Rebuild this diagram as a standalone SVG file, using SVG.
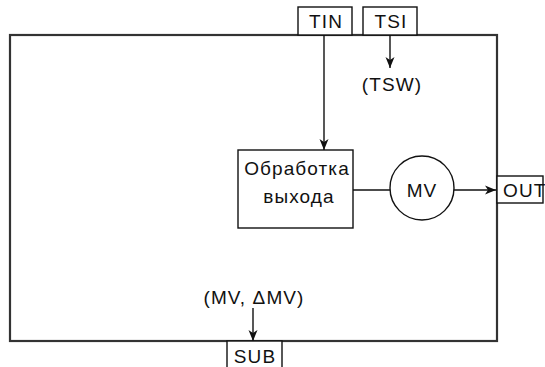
<svg xmlns="http://www.w3.org/2000/svg" width="545" height="367" viewBox="0 0 545 367">
<style>
.t{font-family:"Liberation Sans",Arial,sans-serif;font-size:19px;letter-spacing:1.1px;fill:#111}
.m{text-anchor:middle}
.ln{stroke:#111;stroke-width:1.4;fill:none}
.bx{stroke:#111;stroke-width:1.4;fill:#fff}
.main{stroke:#333;stroke-width:2.2;fill:#fff}
</style>
<defs>
<marker id="ah" markerWidth="12" markerHeight="10" refX="11" refY="5" orient="auto" markerUnits="userSpaceOnUse">
<path d="M0,0.5 L11,5 L0,9.5 L3,5 z" fill="#111"/>
</marker>
</defs>
<rect width="545" height="367" fill="#fff"/>
<g id="main-block"><rect class="main" x="10" y="35" width="487" height="306"/></g>
<g id="TIN"><rect class="bx" x="298" y="7" width="54" height="28"/><text class="t m" x="326" y="28">TIN</text></g>
<g id="TSI"><rect class="bx" x="363" y="7" width="54" height="28"/><text class="t m" x="391" y="28">TSI</text></g>
<g id="TSW"><text class="t m" x="392" y="91">(TSW)</text></g>
<g id="processing"><rect class="bx" x="238" y="150" width="115" height="78"/><text class="t m" x="297" y="175">Обработка</text><text class="t m" x="299" y="203">выхода</text></g>
<g id="MV"><circle class="bx" cx="422" cy="188" r="32"/><text class="t m" x="422" y="197">MV</text></g>
<g id="OUT"><rect class="bx" x="497" y="176" width="46" height="27"/><text class="t" x="503" y="197">OUT</text></g>
<g id="MV-dMV"><text class="t m" x="254" y="304">(MV, ΔMV)</text></g>
<g id="SUB"><rect class="bx" x="227" y="341" width="55" height="30"/><text class="t m" x="255" y="363">SUB</text></g>
<g id="connectors">
<line class="ln" x1="324" y1="35" x2="324" y2="150" marker-end="url(#ah)"/>
<line class="ln" x1="390" y1="35" x2="390" y2="68" marker-end="url(#ah)"/>
<line class="ln" x1="353" y1="190" x2="390" y2="190"/>
<line class="ln" x1="454" y1="190" x2="496" y2="190" marker-end="url(#ah)"/>
<line class="ln" x1="253" y1="308" x2="253" y2="341" marker-end="url(#ah)"/>
</g>
</svg>
